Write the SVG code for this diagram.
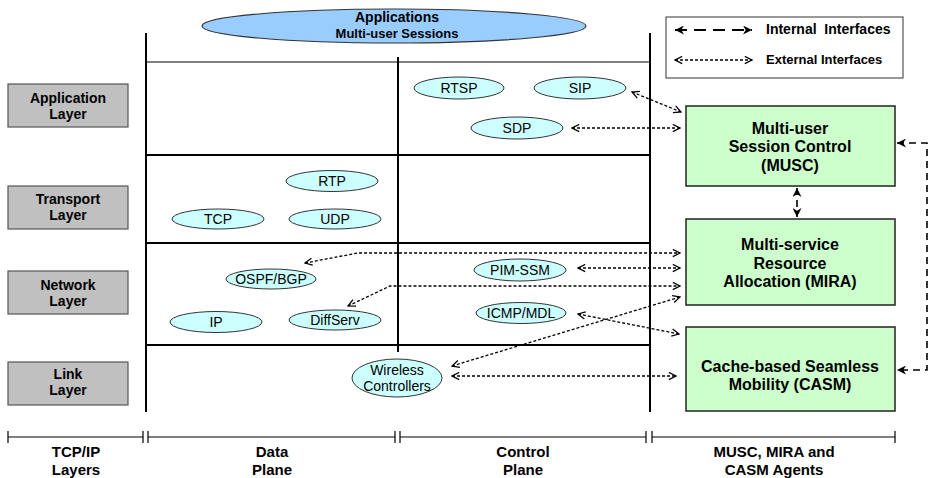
<svg xmlns="http://www.w3.org/2000/svg" width="929" height="478" viewBox="0 0 929 478">
<style>
text{font-family:"Liberation Sans",Arial,sans-serif;fill:#000}
.b{font-weight:bold}
.lay{fill:#c0c0c0;stroke:#555;stroke-width:1.2}
.proto{fill:#ccffff;stroke:#333;stroke-width:1}
.agent{fill:#ccffcc;stroke:#222;stroke-width:1.5}
.grid{stroke:#000;stroke-width:2;fill:none}
.thin{stroke:#000;stroke-width:1;fill:none}
.ext{stroke:#000;stroke-width:1.3;stroke-dasharray:3,2;fill:none;marker-start:url(#o);marker-end:url(#o)}
.int{stroke:#000;stroke-width:1.6;stroke-dasharray:7,5;fill:none;marker-start:url(#f);marker-end:url(#f)}
.scale{stroke:#000;stroke-width:1.2;fill:none}
</style>
<defs>
<marker id="o" viewBox="0 0 10 10" refX="9" refY="5" markerWidth="9" markerHeight="9" markerUnits="userSpaceOnUse" orient="auto-start-reverse">
<path d="M1,1 L9,5 L1,9" fill="none" stroke="#000" stroke-width="1.4" stroke-dasharray="none"/>
</marker>
<marker id="f" viewBox="0 0 10 10" refX="10" refY="5" markerWidth="10" markerHeight="9" markerUnits="userSpaceOnUse" orient="auto-start-reverse">
<path d="M0,0 L10,5 L0,10 L3,5 Z" fill="#000" stroke="none"/>
</marker>
</defs>

<!-- grid -->
<g id="grid">
<line class="grid" x1="146" y1="33" x2="146" y2="412"/>
<line class="grid" x1="650" y1="33" x2="650" y2="412"/>
<line class="grid" x1="398" y1="57" x2="398" y2="352"/>
<line class="thin" x1="146" y1="62" x2="650" y2="62"/>
<line class="grid" x1="146" y1="155" x2="650" y2="155" stroke="#333"/>
<line class="grid" x1="146" y1="243" x2="650" y2="243"/>
<line class="grid" x1="146" y1="345" x2="650" y2="345"/>
</g>

<g id="applications">
<ellipse cx="394" cy="26" rx="192" ry="17" fill="#99ccff" stroke="#333" stroke-width="1.2"/>
<text class="b" x="397" y="22" font-size="14" text-anchor="middle">Applications</text>
<text class="b" x="397" y="38" font-size="13" text-anchor="middle">Multi-user Sessions</text>
</g>

<!-- layer labels -->
<g id="app-layer"><rect class="lay" x="8" y="84" width="120" height="43"/>
<text class="b" font-size="14" text-anchor="middle"><tspan x="68" y="103">Application</tspan><tspan x="68" y="119">Layer</tspan></text></g>
<g id="transport-layer"><rect class="lay" x="8" y="186" width="120" height="43"/>
<text class="b" font-size="14" text-anchor="middle"><tspan x="68" y="204">Transport</tspan><tspan x="68" y="220">Layer</tspan></text></g>
<g id="network-layer"><rect class="lay" x="8" y="271" width="120" height="43"/>
<text class="b" font-size="14" text-anchor="middle"><tspan x="68" y="290">Network</tspan><tspan x="68" y="306">Layer</tspan></text></g>
<g id="link-layer"><rect class="lay" x="8" y="362" width="120" height="43"/>
<text class="b" font-size="14" text-anchor="middle"><tspan x="68" y="379">Link</tspan><tspan x="68" y="395">Layer</tspan></text></g>

<!-- protocols -->
<g id="rtsp"><ellipse class="proto" cx="459" cy="88" rx="45" ry="11"/><text x="459" y="93" font-size="14" text-anchor="middle">RTSP</text></g>
<g id="sip"><ellipse class="proto" cx="580" cy="88" rx="46" ry="11"/><text x="580" y="93" font-size="14" text-anchor="middle">SIP</text></g>
<g id="sdp"><ellipse class="proto" cx="517" cy="128" rx="46" ry="11"/><text x="517" y="133" font-size="14" text-anchor="middle">SDP</text></g>
<g id="rtp"><ellipse class="proto" cx="332" cy="181" rx="46" ry="10.5"/><text x="332" y="186" font-size="14" text-anchor="middle">RTP</text></g>
<g id="tcp"><ellipse class="proto" cx="218" cy="219" rx="46" ry="10"/><text x="218" y="224" font-size="14" text-anchor="middle">TCP</text></g>
<g id="udp"><ellipse class="proto" cx="335" cy="219" rx="46" ry="10"/><text x="335" y="224" font-size="14" text-anchor="middle">UDP</text></g>
<g id="ospf"><ellipse class="proto" cx="271" cy="279" rx="45" ry="10"/><text x="271" y="284" font-size="14" text-anchor="middle">OSPF/BGP</text></g>
<g id="ip"><ellipse class="proto" cx="216" cy="322" rx="46" ry="10.5"/><text x="216" y="327" font-size="14" text-anchor="middle">IP</text></g>
<g id="diffserv"><ellipse class="proto" cx="335" cy="320" rx="46" ry="10"/><text x="335" y="325" font-size="14" text-anchor="middle">DiffServ</text></g>
<g id="pimssm"><ellipse class="proto" cx="520" cy="270" rx="46" ry="11"/><text x="520" y="275" font-size="14" text-anchor="middle">PIM-SSM</text></g>
<g id="icmp"><ellipse class="proto" cx="521" cy="313" rx="45" ry="10.5"/><text x="521" y="318" font-size="14" text-anchor="middle">ICMP/MDL</text></g>
<g id="wireless"><ellipse class="proto" cx="397" cy="378" rx="45" ry="19"/>
<text font-size="14" text-anchor="middle"><tspan x="397" y="375">Wireless</tspan><tspan x="397" y="391">Controllers</tspan></text></g>

<!-- agents -->
<g id="musc"><rect class="agent" x="686" y="106" width="209" height="80"/>
<text class="b" font-size="16" text-anchor="middle"><tspan x="790" y="134">Multi-user</tspan><tspan x="790" y="152">Session Control</tspan><tspan x="790" y="171">(MUSC)</tspan></text></g>
<g id="mira"><rect class="agent" x="686" y="219" width="209" height="86"/>
<text class="b" font-size="16" text-anchor="middle"><tspan x="790" y="250">Multi-service</tspan><tspan x="790" y="269">Resource</tspan><tspan x="790" y="287">Allocation (MIRA)</tspan></text></g>
<g id="casm"><rect class="agent" x="686" y="327" width="209" height="84"/>
<text class="b" font-size="16" text-anchor="middle"><tspan x="790" y="372">Cache-based Seamless</tspan><tspan x="790" y="390">Mobility (CASM)</tspan></text></g>

<!-- legend -->
<g id="legend">
<rect x="666" y="17" width="237" height="61" fill="#fff" stroke="#555" stroke-width="1.2"/>
<line x1="675" y1="30" x2="752" y2="30" stroke="#000" stroke-width="2" stroke-dasharray="12,7" marker-start="url(#f)" marker-end="url(#f)"/>
<line class="ext" x1="675" y1="60" x2="752" y2="60"/>
<text class="b" x="766" y="34" font-size="14" xml:space="preserve">Internal  Interfaces</text>
<text class="b" x="766" y="64" font-size="13">External Interfaces</text>
</g>

<!-- connectors -->
<g id="connectors">
<line class="ext" x1="632" y1="92" x2="681" y2="112"/>
<line class="ext" x1="572" y1="128" x2="680" y2="128"/>
<polyline class="ext" points="305,263 358,253 680,253"/>
<line class="ext" x1="578" y1="268" x2="680" y2="268"/>
<polyline class="ext" points="348,306 390,286 680,286"/>
<line class="ext" x1="452" y1="366" x2="680" y2="297"/>
<line class="ext" x1="578" y1="314" x2="679" y2="334"/>
<line class="ext" x1="452" y1="376" x2="676" y2="376"/>
<line class="int" x1="797" y1="188" x2="797" y2="217"/>
<polyline class="int" points="897,143 927,143 927,370 897,370"/>
</g>

<!-- scale bar -->
<g id="scale">
<path class="scale" d="M8,437 H143 M8,431 V443 M143,431 V443 M148,437 H395 M148,431 V443 M395,431 V443 M400,437 H646 M400,431 V443 M646,431 V443 M652,437 H895 M652,431 V443 M895,431 V443"/>
<text class="b" font-size="15" text-anchor="middle"><tspan x="76" y="457">TCP/IP</tspan><tspan x="76" y="475">Layers</tspan></text>
<text class="b" font-size="15" text-anchor="middle"><tspan x="272" y="457">Data</tspan><tspan x="272" y="475">Plane</tspan></text>
<text class="b" font-size="15" text-anchor="middle"><tspan x="523" y="457">Control</tspan><tspan x="523" y="475">Plane</tspan></text>
<text class="b" font-size="15" text-anchor="middle"><tspan x="774" y="457">MUSC, MIRA and</tspan><tspan x="774" y="475">CASM Agents</tspan></text>
</g>
</svg>
